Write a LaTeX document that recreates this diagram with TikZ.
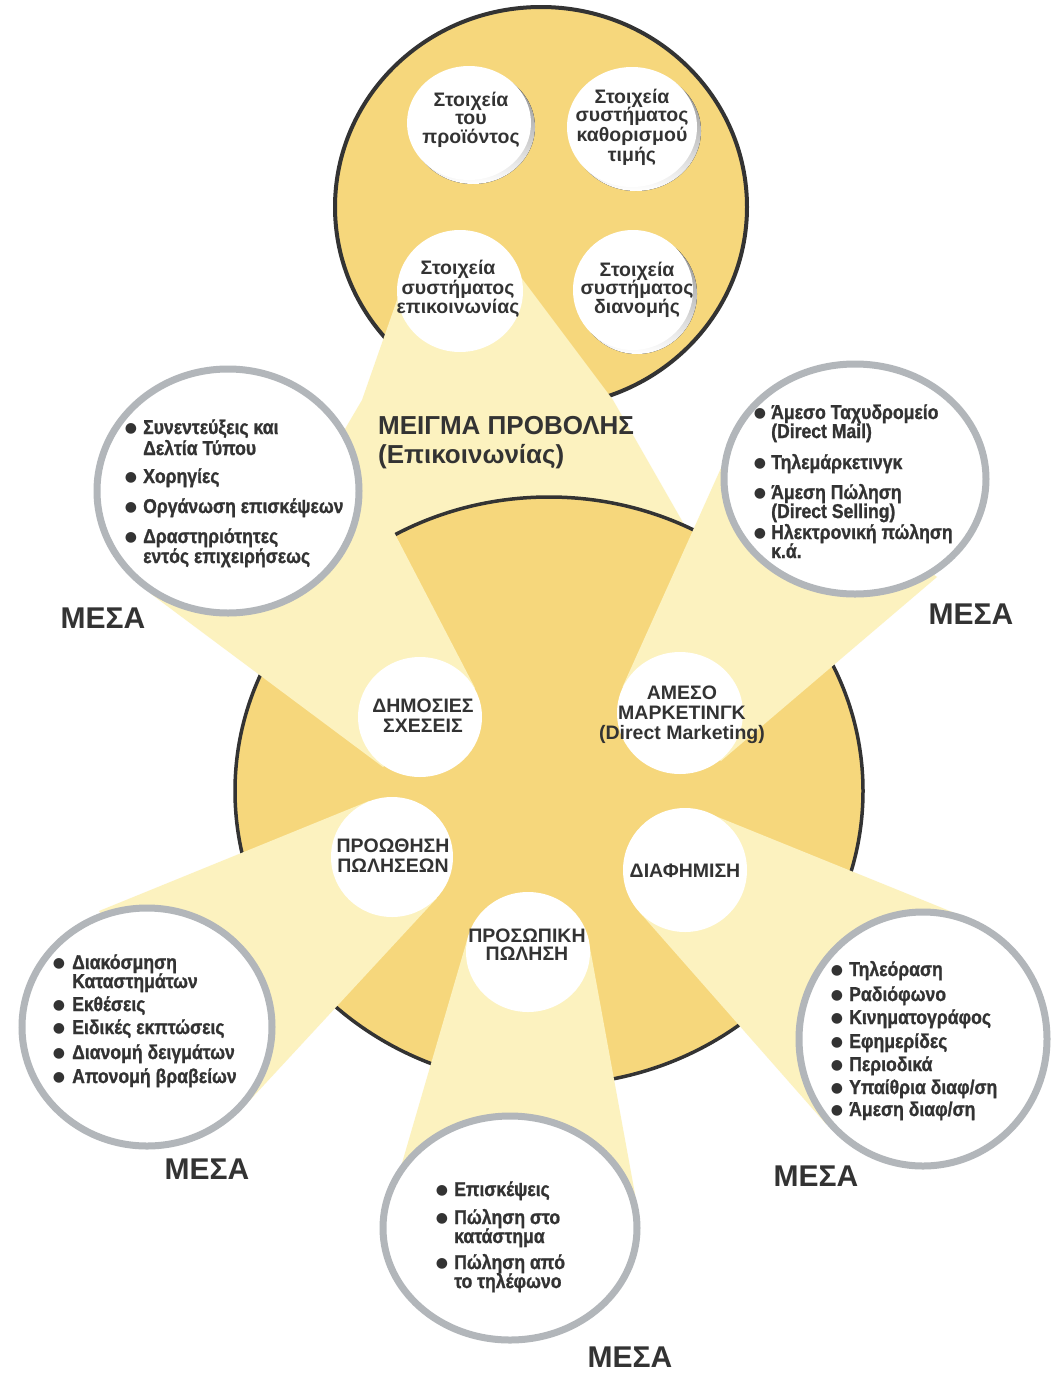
\documentclass[tikz,border=0pt]{standalone}
\usepackage{graphicx}
\usepackage{fontspec}
\setmainfont{Liberation Sans}
\newfontfamily\symfont{DejaVu Sans}
\newfontfamily\lifont[FakeBold=1.2]{Liberation Sans Bold}
\newcommand\cnd[1]{\scalebox{0.88}[1]{#1}}
\definecolor{yel}{HTML}{F6D77C}
\definecolor{beam}{HTML}{FCF2BF}
\definecolor{ring}{HTML}{B2B6BA}
\definecolor{ink}{HTML}{333333}
\definecolor{shade}{HTML}{B9AC8A}
\begin{document}
\begin{tikzpicture}[x=1pt,y=-1pt,
  ctext/.style={font=\fontsize{19.5}{20}\selectfont\bfseries, text=ink, inner sep=0pt, anchor=base},
  li/.style={font=\lifont\fontsize{20}{20}\selectfont, text=ink, inner sep=0pt, anchor=base west},
  bul/.style={font=\symfont\fontsize{14}{14}\selectfont, text=ink, inner sep=0pt, anchor=center},
  mesa/.style={font=\fontsize{30}{30}\selectfont\bfseries, text=ink, inner sep=0pt, anchor=center},
  title/.style={font=\fontsize{26}{26}\selectfont\bfseries, text=ink, inner sep=0pt, anchor=base west},
  ringc/.style={fill=white, draw=ring, line width=7pt},
  whitec/.style={fill=white},
  bm/.style={fill=beam}]
\useasboundingbox (0,0) rectangle (1054,1376);
\fill[white] (0,0) rectangle (1054,1376);

% top circle
\fill[yel] (541,207) ellipse [x radius=206, y radius=200];
\draw[ink, line width=4pt] (541,207) ellipse [x radius=206, y radius=200];

% top beam
\fill[bm] (404,280) -- (362,400) -- (221,640) -- (720,640) -- (693,540) -- (613,400) -- (514,268) -- cycle;

% central circle
\fill[yel] (549,791) ellipse [x radius=314, y radius=294];
\draw[ink, line width=3.5pt] (549,791) ellipse [x radius=314, y radius=294];

% beams to outer circles
\fill[bm] (475,688) -- (342,432) -- (151,594) -- (383,767) -- cycle;
\fill[bm] (622.5,687) -- (739,428) -- (937,577) -- (721,761) -- cycle;
\fill[bm] (437,898) -- (239,1112) -- (99,911) -- (369,801) -- cycle;
\fill[bm] (708,813) -- (972,920) -- (826,1124) -- (638.5,911) -- cycle;
\fill[bm] (589,942.5) -- (637,1205) -- (393,1194) -- (468.5,935) -- cycle;

% outer circles
\path[ringc] (228,491) ellipse [x radius=131, y radius=122];
\path[ringc] (855,479) ellipse [x radius=131, y radius=115];
\path[ringc] (147,1027) ellipse [x radius=125, y radius=119];
\path[ringc] (923,1039) ellipse [x radius=124, y radius=127];
\path[ringc] (510,1228) ellipse [x radius=127, y radius=112];

% central white circles
\path[whitec] (420,717) ellipse [x radius=62, y radius=60];
\path[whitec] (680,713) ellipse [x radius=63, y radius=61];
\path[whitec] (392,857) ellipse [x radius=61, y radius=60];
\path[whitec] (685,870) ellipse [x radius=62, y radius=62];
\path[whitec] (528,952) ellipse [x radius=62, y radius=60];

% top small circles with shadows
\fill[shade] (473,127) ellipse [x radius=62, y radius=57];
\fill[white] (469,123) ellipse [x radius=62, y radius=57];
\fill[shade] (636,131) ellipse [x radius=65, y radius=60];
\fill[white] (632,127) ellipse [x radius=65, y radius=60];
\fill[white] (460,291) ellipse [x radius=63, y radius=61];
\fill[shade] (637,294) ellipse [x radius=60, y radius=60];
\fill[white] (633,290) ellipse [x radius=60, y radius=60];

% texts in top circles
\node[ctext] (t1a) at (471,106) {Στοιχεία};
\node[ctext] (t1b) at (471,124) {του};
\node[ctext] (t1c) at (471,143) {προϊόντος};
\node[ctext] (t2a) at (632,103) {Στοιχεία};
\node[ctext] (t2b) at (632,121) {συστήματος};
\node[ctext] (t2c) at (632,141) {καθορισμού};
\node[ctext] (t2d) at (632,161) {τιμής};
\node[ctext] (t3a) at (458,274) {Στοιχεία};
\node[ctext] (t3b) at (458,294) {συστήματος};
\node[ctext] (t3c) at (458,313) {επικοινωνίας};
\node[ctext] (t4a) at (637,276) {Στοιχεία};
\node[ctext] (t4b) at (637,294) {συστήματος};
\node[ctext] (t4c) at (637,313) {διανομής};

% title
\node[title] (mt1) at (378,434) {ΜΕΙΓΜΑ ΠΡΟΒΟΛΗΣ};
\node[title] (mt2) at (378,463) {(Επικοινωνίας)};

% central circle texts
\node[ctext] (c1a) at (423,712) {ΔΗΜΟΣΙΕΣ};
\node[ctext] (c1b) at (423,732) {ΣΧΕΣΕΙΣ};
\node[ctext] (c2a) at (682,699) {ΑΜΕΣΟ};
\node[ctext] (c2b) at (682,719) {ΜΑΡΚΕΤΙΝΓΚ};
\node[ctext] (c2c) at (682,739) {(Direct Marketing)};
\node[ctext] (c3a) at (393,852) {ΠΡΟΩΘΗΣΗ};
\node[ctext] (c3b) at (393,872) {ΠΩΛΗΣΕΩΝ};
\node[ctext] (c4a) at (685,877) {ΔΙΑΦΗΜΙΣΗ};
\node[ctext] (c5a) at (527,942) {ΠΡΟΣΩΠΙΚΗ};
\node[ctext] (c5b) at (527,960) {ΠΩΛΗΣΗ};

% list O1
\node[bul] at (131,429) {●};
\node[li] (o1a) at (143,434) {\cnd{Συνεντεύξεις και}};
\node[li] (o1b) at (143,455) {\cnd{Δελτία Τύπου}};
\node[bul] at (131,478) {●};
\node[li] (o1c) at (143,483) {\cnd{Χορηγίες}};
\node[bul] at (131,508) {●};
\node[li] (o1d) at (143,513) {\cnd{Οργάνωση επισκέψεων}};
\node[bul] at (131,538) {●};
\node[li] (o1e) at (143,543) {\cnd{Δραστηριότητες}};
\node[li] (o1f) at (143,563) {\cnd{εντός επιχειρήσεως}};

% list O2
\node[bul] at (760,414) {●};
\node[li] (o2a) at (771,419) {\cnd{Άμεσο Ταχυδρομείο}};
\node[li] (o2b) at (771,438) {\cnd{(Direct Mail)}};
\node[bul] at (760,464) {●};
\node[li] (o2c) at (771,469) {\cnd{Τηλεμάρκετινγκ}};
\node[bul] at (760,494) {●};
\node[li] (o2d) at (771,499) {\cnd{Άμεση Πώληση}};
\node[li] (o2e) at (771,518) {\cnd{(Direct Selling)}};
\node[bul] at (760,534) {●};
\node[li] (o2f) at (771,539) {\cnd{Ηλεκτρονική πώληση}};
\node[li] (o2g) at (771,558) {\cnd{κ.ά.}};

% list O3
\node[bul] at (59,964) {●};
\node[li] (o3a) at (72,969) {\cnd{Διακόσμηση}};
\node[li] (o3b) at (72,988) {\cnd{Καταστημάτων}};
\node[bul] at (59,1006) {●};
\node[li] (o3c) at (72,1011) {\cnd{Εκθέσεις}};
\node[bul] at (59,1029) {●};
\node[li] (o3d) at (72,1034) {\cnd{Ειδικές εκπτώσεις}};
\node[bul] at (59,1054) {●};
\node[li] (o3e) at (72,1059) {\cnd{Διανομή δειγμάτων}};
\node[bul] at (59,1078) {●};
\node[li] (o3f) at (72,1083) {\cnd{Απονομή βραβείων}};

% list O4
\node[bul] at (837,971) {●};
\node[li] (o4a) at (849,976) {\cnd{Τηλεόραση}};
\node[bul] at (837,996) {●};
\node[li] (o4b) at (849,1001) {\cnd{Ραδιόφωνο}};
\node[bul] at (837,1019) {●};
\node[li] (o4c) at (849,1024) {\cnd{Κινηματογράφος}};
\node[bul] at (837,1043) {●};
\node[li] (o4d) at (849,1048) {\cnd{Εφημερίδες}};
\node[bul] at (837,1066) {●};
\node[li] (o4e) at (849,1071) {\cnd{Περιοδικά}};
\node[bul] at (837,1089) {●};
\node[li] (o4f) at (849,1094) {\cnd{Υπαίθρια διαφ/ση}};
\node[bul] at (837,1111) {●};
\node[li] (o4g) at (849,1116) {\cnd{Άμεση διαφ/ση}};

% list O5
\node[bul] at (442,1191) {●};
\node[li] (o5a) at (454,1196) {\cnd{Επισκέψεις}};
\node[bul] at (442,1219) {●};
\node[li] (o5b) at (454,1224) {\cnd{Πώληση στο}};
\node[li] (o5c) at (454,1243) {\cnd{κατάστημα}};
\node[bul] at (442,1264) {●};
\node[li] (o5d) at (454,1269) {\cnd{Πώληση από}};
\node[li] (o5e) at (454,1288) {\cnd{το τηλέφωνο}};

% MESA labels
\node[mesa] (m1) at (103,618) {ΜΕΣΑ};
\node[mesa] (m2) at (971,614) {ΜΕΣΑ};
\node[mesa] (m3) at (207,1169) {ΜΕΣΑ};
\node[mesa] (m4) at (816,1176) {ΜΕΣΑ};
\node[mesa] (m5) at (630,1357) {ΜΕΣΑ};
\end{tikzpicture}
\end{document}
